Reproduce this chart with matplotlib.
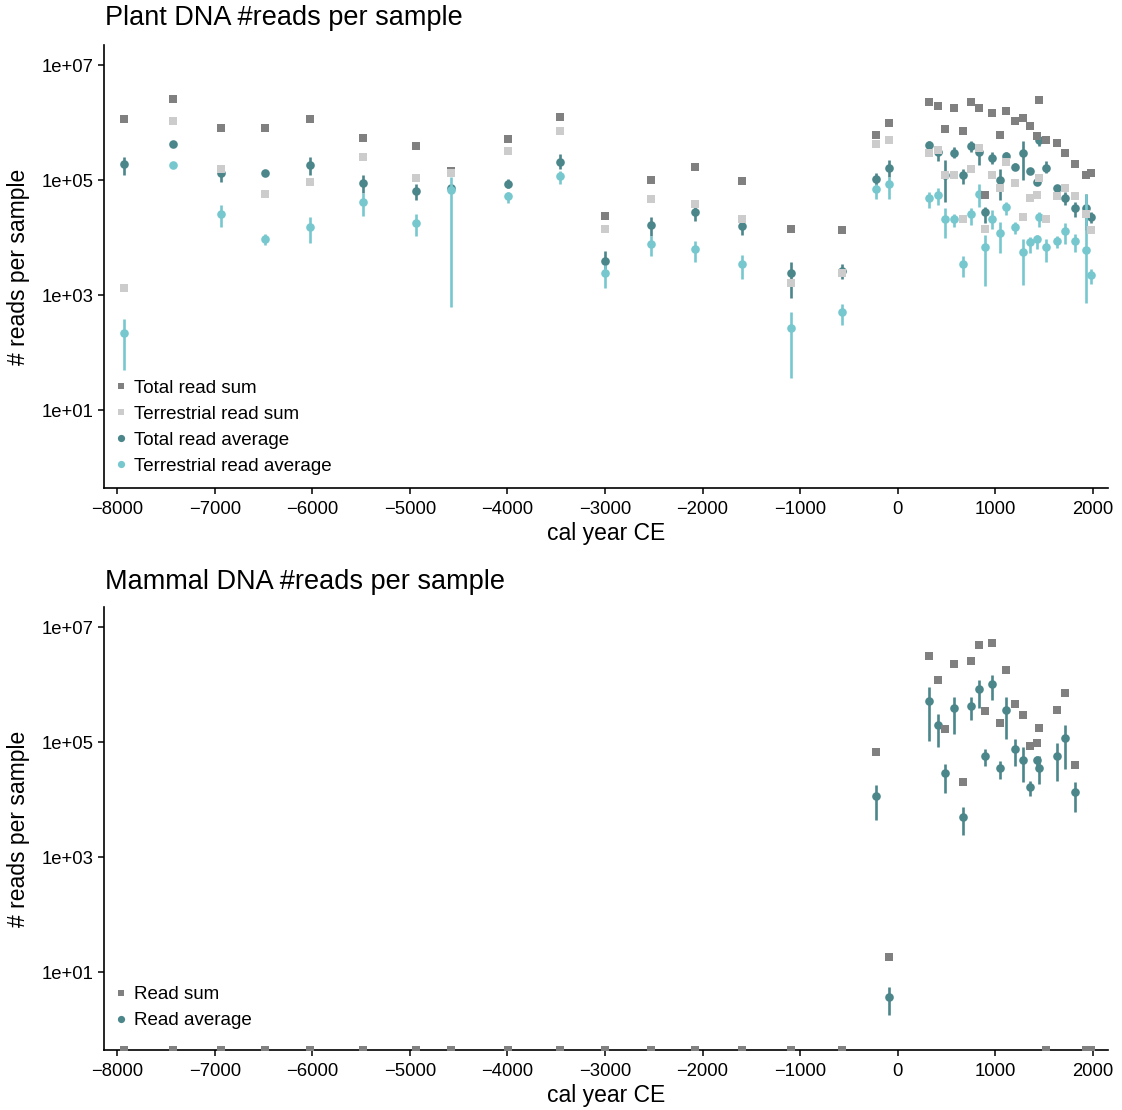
import numpy as np
import matplotlib
matplotlib.use("Agg")
import matplotlib.pyplot as plt
from matplotlib.lines import Line2D
from matplotlib.ticker import NullLocator

plt.rcParams['font.family'] = ['Liberation Sans', 'DejaVu Sans']

# Sample ages (cal year CE), shared by both panels
years = [-7930, -7432, -6936, -6488, -6024, -5477, -4936, -4581, -3990, -3459,
         -2998, -2526, -2074, -1600, -1090, -570, -218, -85, 318, 410,
         489, 574, 667, 756, 831, 900, 968, 1046, 1115, 1207,
         1282, 1354, 1430, 1446, 1525, 1635, 1720, 1823, 1935, 1984]

# Plant DNA, log10 of read counts
plant_total_sum = [6.07, 6.41, 5.91, 5.91, 6.06, 5.74, 5.59, 5.17, 5.72, 6.10,
                   4.38, 5.01, 5.23, 4.99, 4.16, 4.13, 5.79, 6.00, 6.36, 6.29,
                   5.90, 6.25, 5.86, 6.36, 6.25, 4.74, 6.17, 5.79, 6.21, 6.03,
                   6.08, 5.94, 5.77, 6.40, 5.71, 5.65, 5.48, 5.29, 5.10, 5.13]
plant_terr_sum = [3.13, 6.04, 5.20, 4.76, 4.97, 5.41, 5.04, 5.12, 5.51, 5.86,
                  4.16, 4.67, 4.58, 4.32, 3.21, 3.39, 5.63, 5.71, 5.47, 5.53,
                  5.10, 5.10, 4.32, 5.19, 5.56, 4.15, 5.10, 4.87, 5.32, 4.96,
                  4.36, 4.69, 4.74, 5.04, 4.32, 4.72, 4.87, 4.72, 4.41, 4.13]
plant_total_avg = [5.29, 5.64, 5.13, 5.13, 5.27, 4.95, 4.81, 4.87, 4.94, 5.32,
                   3.60, 4.23, 4.44, 4.21, 3.38, 3.43, 5.02, 5.21, 5.61, 5.50,
                   5.10, 5.48, 5.09, 5.59, 5.49, 4.45, 5.39, 5.01, 5.43, 5.24,
                   5.47, 5.16, 4.97, 5.70, 5.22, 4.87, 4.70, 4.51, 4.51, 4.36]
plant_total_avg_lo = [5.10, 5.64, 4.97, 5.10, 5.09, 4.78, 4.66, 4.87, 4.86, 5.20,
                      3.45, 4.03, 4.29, 4.04, 2.96, 3.29, 4.92, 5.06, 5.52, 5.33,
                      4.62, 5.38, 4.94, 5.50, 5.26, 4.25, 5.29, 4.65, 5.35, 5.20,
                      5.00, 5.12, 4.92, 5.60, 5.12, 4.82, 4.57, 4.36, 4.13, 4.25]
plant_total_avg_hi = [5.41, 5.64, 5.20, 5.16, 5.41, 5.10, 4.93, 4.87, 5.03, 5.45,
                      3.77, 4.36, 4.54, 4.30, 3.58, 3.54, 5.12, 5.35, 5.68, 5.60,
                      5.35, 5.58, 5.19, 5.68, 5.58, 4.54, 5.49, 5.20, 5.50, 5.30,
                      5.68, 5.22, 5.03, 5.76, 5.33, 4.92, 4.80, 4.62, 4.77, 4.45]
plant_terr_avg = [2.35, 5.26, 4.42, 3.98, 4.19, 4.63, 4.26, 4.83, 4.73, 5.08,
                  3.39, 3.89, 3.80, 3.54, 2.43, 2.70, 4.85, 4.93, 4.69, 4.74,
                  4.32, 4.32, 3.54, 4.41, 4.77, 3.84, 4.33, 4.09, 4.54, 4.19,
                  3.75, 3.92, 3.97, 4.36, 3.84, 3.94, 4.11, 3.94, 3.79, 3.35]
plant_terr_avg_lo = [1.70, 5.26, 4.19, 3.87, 3.91, 4.38, 4.03, 2.79, 4.61, 4.93,
                     3.13, 3.68, 3.58, 3.29, 1.56, 2.49, 4.68, 4.68, 4.51, 4.57,
                     3.99, 4.19, 3.31, 4.22, 4.54, 3.16, 4.16, 3.73, 4.39, 4.07,
                     3.17, 3.73, 3.81, 4.19, 3.58, 3.83, 3.90, 3.75, 2.86, 3.19]
plant_terr_avg_hi = [2.59, 5.26, 4.57, 4.06, 4.36, 4.78, 4.41, 5.06, 4.79, 5.17,
                     3.52, 4.03, 3.94, 3.70, 2.70, 2.84, 4.94, 5.06, 4.80, 4.86,
                     4.51, 4.42, 3.68, 4.51, 4.94, 4.04, 4.48, 4.27, 4.62, 4.27,
                     3.97, 4.01, 4.04, 4.45, 3.97, 4.03, 4.25, 4.07, 4.77, 3.46]

# Mammal DNA, log10 of read counts (-inf = no reads)
NONE = -np.inf
mammal_sum = [NONE] * 16 + [4.84, 1.27, 6.50, 6.08,
              5.23, 6.37, 4.31, 6.42, 6.69, 5.54, 6.72, 5.33, 6.26, 5.67,
              5.48, 4.94, 4.99, 5.25, NONE, 5.56, 5.85, 4.61, NONE, NONE]
mammal_avg = [NONE] * 16 + [4.06, 0.57, 5.72, 5.30,
              4.46, 5.59, 3.70, 5.64, 5.92, 4.76, 6.02, 4.56, 5.57, 4.88,
              4.70, 4.23, 4.69, 4.55, NONE, 4.77, 5.07, 4.13, NONE, NONE]
mammal_avg_lo = [NONE] * 16 + [3.64, 0.25, 5.03, 4.92,
                 4.11, 5.15, 3.38, 5.38, 5.59, 4.59, 5.73, 4.37, 5.05, 4.58,
                 4.31, 4.06, 4.51, 4.27, NONE, 4.32, 4.53, 3.78, NONE, NONE]
mammal_avg_hi = [NONE] * 16 + [4.26, 0.74, 5.96, 5.49,
                 4.63, 5.79, 3.87, 5.79, 6.09, 4.89, 6.18, 4.67, 5.78, 5.06,
                 4.91, 4.33, 4.77, 4.77, NONE, 4.98, 5.30, 4.31, NONE, NONE]

C_TOTAL_SUM = '#808080'
C_TERR_SUM = '#cccccc'
C_TOTAL_AVG = '#4b868b'
C_TERR_AVG = '#77c8ce'

YMIN, YMAX = 10 ** -0.355, 10 ** 7.355
XMIN, XMAX = -8136, 2157
SQ_MS, CI_MS, BAR_LW = 5.3, 6.2, 1.9

W, H = 1122, 1110
fig = plt.figure(figsize=(W / 100, H / 100), dpi=100)
ax1 = fig.add_axes([104 / W, 1 - 488 / H, 1004 / W, 443 / H])
ax2 = fig.add_axes([104 / W, 1 - 1050 / H, 1004 / W, 443 / H])


def pointrange(ax, x, v, lo, hi, color, z):
    x = np.asarray(x, float)
    v, lo, hi = (np.asarray(a, float) for a in (v, lo, hi))
    ok = np.isfinite(v)
    ax.vlines(x[ok], 10 ** lo[ok], 10 ** hi[ok], color=color, lw=BAR_LW, zorder=z)
    ax.plot(x[ok], 10 ** v[ok], 'o', ms=CI_MS, color=color, mew=0, zorder=z)


def squares(ax, x, v, color, z):
    counts = 10 ** np.asarray(v, float)
    # samples without reads sit on the lower edge of the panel
    counts = np.where(counts > 0, counts, YMIN)
    ax.plot(x, counts, 's', ms=SQ_MS, color=color, mew=0, zorder=z)


# Plant panel
pointrange(ax1, years, plant_total_avg, plant_total_avg_lo, plant_total_avg_hi, C_TOTAL_AVG, 2)
pointrange(ax1, years, plant_terr_avg, plant_terr_avg_lo, plant_terr_avg_hi, C_TERR_AVG, 3)
squares(ax1, years, plant_total_sum, C_TOTAL_SUM, 4)
squares(ax1, years, plant_terr_sum, C_TERR_SUM, 5)

# Mammal panel
pointrange(ax2, years, mammal_avg, mammal_avg_lo, mammal_avg_hi, C_TOTAL_AVG, 2)
squares(ax2, years, mammal_sum, C_TOTAL_SUM, 4)

for ax in (ax1, ax2):
    ax.set_yscale('log')
    ax.set_ylim(YMIN, YMAX)
    ax.set_xlim(XMIN, XMAX)
    ax.set_yticks([1e1, 1e3, 1e5, 1e7])
    ax.set_yticklabels(['1e+01', '1e+03', '1e+05', '1e+07'])
    ax.yaxis.set_minor_locator(NullLocator())
    ax.set_xticks(range(-8000, 2001, 1000))
    for s in ('top', 'right'):
        ax.spines[s].set_visible(False)
    for s in ('left', 'bottom'):
        ax.spines[s].set_linewidth(1.2)
    ax.tick_params(length=4, width=1.1, labelsize=13.3, colors='black', pad=3.5)
    ax.tick_params(axis='x', pad=5)
    ax.set_xlabel('cal year CE', fontsize=16.5, labelpad=3)
    ax.set_ylabel('# reads per sample', fontsize=16.5, labelpad=8)


def legend(ax, entries, x0, y0):
    handles = [Line2D([], [], ls='none', marker=m, ms=s, color=c, mew=0) for m, s, c, _ in entries]
    ax.legend(handles, [e[3] for e in entries], loc='lower left',
              bbox_to_anchor=(x0, y0), frameon=False, fontsize=13.5,
              handlelength=0.8, handletextpad=0.3, labelspacing=0.47,
              borderaxespad=0, borderpad=0)


legend(ax1, [('s', 4.8, C_TOTAL_SUM, 'Total read sum'),
             ('s', 4.8, C_TERR_SUM, 'Terrestrial read sum'),
             ('o', 5.2, C_TOTAL_AVG, 'Total read average'),
             ('o', 5.2, C_TERR_AVG, 'Terrestrial read average')], 0.009, 0.03)
legend(ax2, [('s', 4.8, C_TOTAL_SUM, 'Read sum'),
             ('o', 5.2, C_TOTAL_AVG, 'Read average')], 0.009, 0.047)

fig.text(105 / W, 1 - 18 / H, 'Plant DNA #reads per sample', fontsize=19.5, va='center', ha='left')
fig.text(105 / W, 1 - 582 / H, 'Mammal DNA #reads per sample', fontsize=19.5, va='center', ha='left')

fig.savefig('out.png', dpi=100)
